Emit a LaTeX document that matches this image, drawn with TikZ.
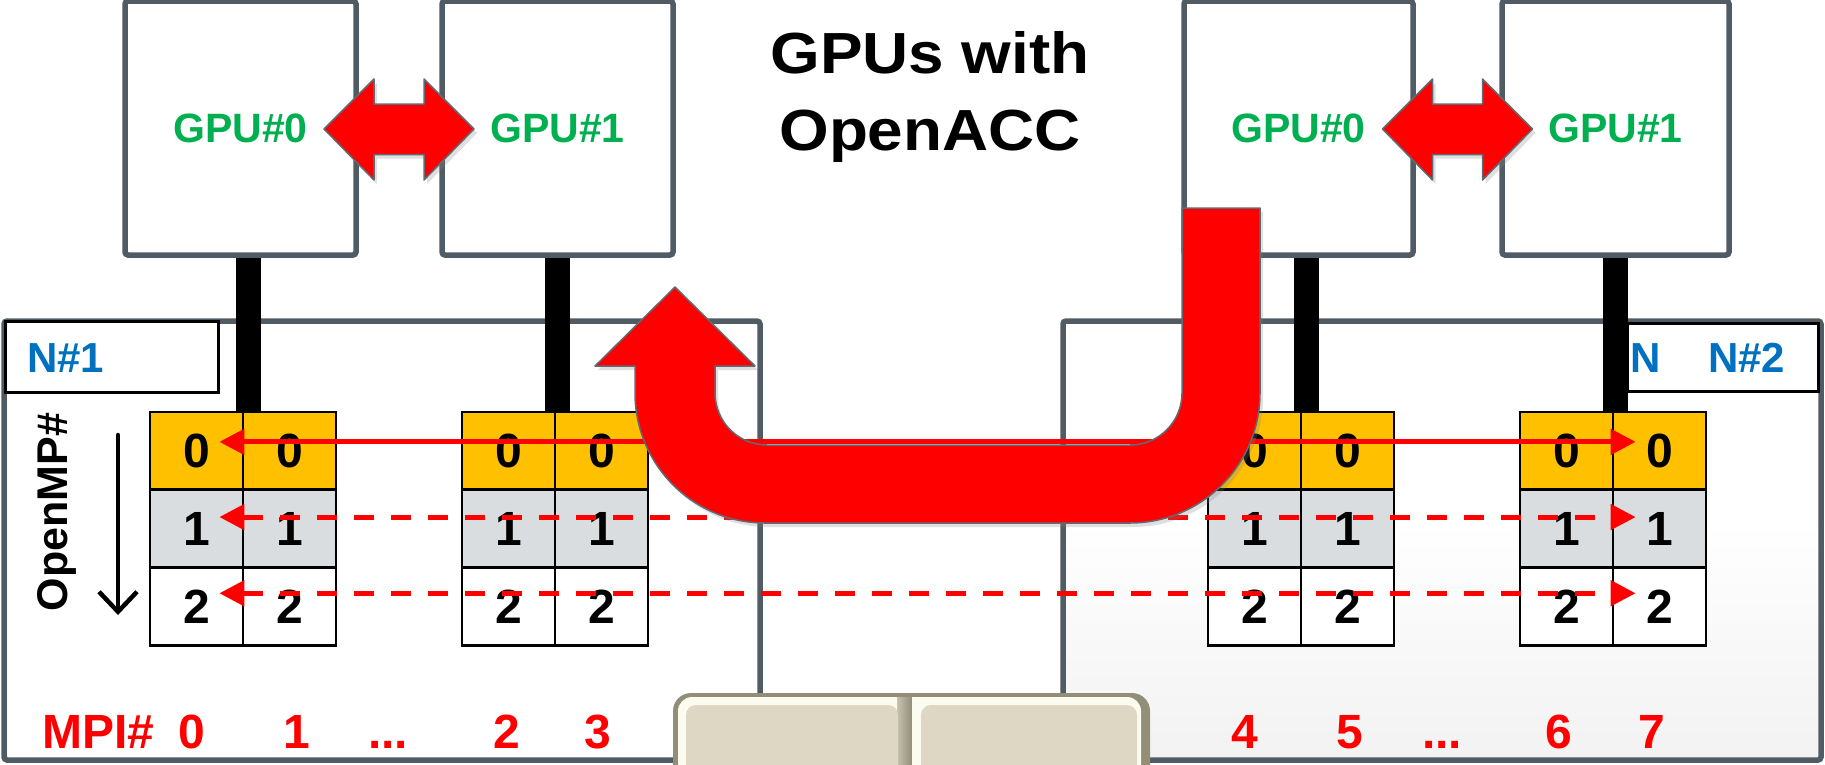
\documentclass[tikz,border=0pt]{standalone}
\usepackage{fontspec}
\usepackage{graphicx}
\setmainfont{Liberation Sans}
\usetikzlibrary{arrows.meta,shadows}
\definecolor{frame}{RGB}{80,91,100}
\definecolor{gpugreen}{RGB}{0,176,80}
\definecolor{nblue}{RGB}{0,112,192}
\definecolor{gold}{RGB}{255,192,0}
\definecolor{rowgrey}{RGB}{218,221,224}
\definecolor{beige}{RGB}{221,215,195}
\definecolor{beigedark}{RGB}{146,142,120}
\definecolor{beigelight}{RGB}{252,251,240}
\newcommand{\fsz}[1]{\fontsize{#1}{#1}\selectfont\bfseries}
\begin{document}
\begin{tikzpicture}[x=1pt,y=1pt,
  frameline/.style={draw=frame,line width=5.5pt,rounded corners=3pt},
  gpubox/.style={frameline,fill=white,minimum width=231pt,minimum height=254pt,inner sep=0pt,text=gpugreen,font=\fsz{41}},
  nodebox/.style={frameline,minimum width=756pt,minimum height=439pt,inner sep=0pt},
  nbox/.style={draw=black,line width=3pt,fill=white,inner sep=0pt},
  nlabel/.style={text=nblue,font=\fsz{42},anchor=base west,inner sep=0pt},
  cell/.style={draw=black,line width=2.8pt,minimum width=93pt,minimum height=77.7pt,inner sep=0pt,font=\fsz{48}},
  bar/.style={line width=25pt},
  rowarr/.style={draw=red,line width=5pt,>={Triangle[length=25pt,width=25pt]},<->},
  rowdash/.style={rowarr,dash pattern=on 20pt off 17pt},
  bigarrow/.style={fill=red,draw=frame!90,line width=1.5pt,line join=round,drop shadow={shadow xshift=3pt,shadow yshift=-4pt,opacity=0.25}},
  mpi/.style={text=red,font=\fsz{48},anchor=base,inner sep=0pt},
  title/.style={font=\fsz{58},anchor=base,inner sep=0pt}
]
\useasboundingbox (0,0) rectangle (1825,-764);
\clip (0,0) rectangle (1825,-764);

% faint background texture of node 2
\shade[top color=white,bottom color=black!5] (1066,-520) rectangle (1818,-757);

% node frames
\node[nodebox] (n1) at (382,-540.5) {};
\node[nodebox,minimum width=758pt] (n2) at (1442,-540.5) {};

% node label boxes
\node[nbox,minimum width=213pt,minimum height=71pt] (nb1) at (111.5,-356.5) {};
\node[nbox,minimum width=191pt,minimum height=68pt] (nb2) at (1722.5,-357) {};
\node[nlabel] (nl1) at (27,-372) {N\#1};
\node[nlabel] (nl2a) at (1630,-372) {N};
\node[nlabel] (nl2) at (1708,-372) {N\#2};

% GPUs
\node[gpubox] (gA) at (240.5,-128) {GPU\#0};
\node[gpubox] (gB) at (557.5,-128) {GPU\#1};
\node[gpubox,minimum width=229pt] (gC) at (1298.5,-128) {GPU\#0};
\node[gpubox,minimum width=227pt] (gD) at (1615.5,-128) {GPU\#1};

% GPU double arrows
\path (gA.east) -- (gB.west) coordinate[midway] (mAB);
\path (gC.east) -- (gD.west) coordinate[midway] (mCD);
\foreach \m in {mAB,mCD}{
  \draw[bigarrow] ([shift={(-75,-1)}]\m) -- ++(50,50) -- ++(0,-25) -- ++(50,0) -- ++(0,25)
     -- ++(50,-50) -- ++(-50,-51) -- ++(0,25.5) -- ++(-50,0) -- ++(0,-25.5) -- cycle;
}

% cells
\foreach \g/\gx in {a/150,b/462,c/1208,d/1520}{
  \foreach \r/\fc in {0/gold,1/rowgrey,2/white}{
    \foreach \c in {0,1}{
      \node[cell,fill=\fc] (\g\r\c) at ({\gx+46.5+93*\c},{-450.85-77.7*\r}) {\r};
    }
  }
}

% black bars
\draw[bar] ([xshift=7.5pt]gA.south) -- ([xshift=7.5pt]gA.south |- a00.north);
\draw[bar] (gB.south) -- (gB.south |- b00.north);
\draw[bar] ([xshift=7.5pt]gC.south) -- ([xshift=7.5pt]gC.south |- c00.north);
\draw[bar] (gD.south) -- (gD.south |- d00.north);

% MPI row arrows
\draw[rowarr] ([xshift=-25pt,yshift=9pt]a00.east) -- ([xshift=24pt,yshift=9pt]d01.west);
\draw[rowdash] ([xshift=-25pt,yshift=11.5pt]a10.east) -- ([xshift=24pt,yshift=11.5pt]d11.west);
\draw[rowdash] ([xshift=-25pt,yshift=13pt]a20.east) -- ([xshift=24pt,yshift=13pt]d21.west);

% big U-turn arrow
\draw[bigarrow] (1260,-208) -- (1260,-393) arc[start angle=0,end angle=-90,radius=130]
  -- (765,-523) arc[start angle=270,end angle=180,radius=130]
  -- (635,-366) -- (595,-366) -- (675,-287) -- (755,-366) -- (715,-366)
  -- (715,-393) arc[start angle=180,end angle=270,radius=52]
  -- (1130,-445) arc[start angle=270,end angle=360,radius=52]
  -- (1182,-208) -- cycle;

% OpenMP label and arrow
\node[rotate=90,font=\fsz{43},inner sep=0pt] (omp) at (57,-512) {OpenMP\#};
\coordinate (ompA) at (118,-435);
\coordinate (ompB) at (118,-615);
\draw[line width=4.5pt,line cap=round,line join=round,-{Straight Barb[length=20pt,width=38pt]}] (ompA) -- (ompB);

% title
\node[title] (t1) at (930,-73) {\scalebox{1.1}[1]{GPUs with}};
\node[title] (t2) at (930,-150) {\scalebox{1.1}[1]{OpenACC}};

% MPI numbers
\node[mpi,anchor=base west] (mpiL) at (42,-748) {MPI\#};
\node[mpi] (m0) at (192,-748) {0};
\node[mpi] (m1) at (297,-748) {1};
\node[mpi] (md1) at (388,-748) {...};
\node[mpi] (m2) at (507,-748) {2};
\node[mpi] (m3) at (598,-748) {3};
\node[mpi] (m4) at (1245,-748) {4};
\node[mpi] (m5) at (1350,-748) {5};
\node[mpi] (md2) at (1442,-748) {...};
\node[mpi] (m6) at (1559,-748) {6};
\node[mpi] (m7) at (1652,-748) {7};

% beige keys at the bottom
\fill[beigedark,rounded corners=18pt] (673,-693) rectangle (1150,-800);
\fill[beigelight,rounded corners=14pt] (678,-697) rectangle (1141,-800);
\shade[left color=beige!70!beigedark,right color=beigedark] (897,-697) rectangle (912,-800);
\fill[beigelight] (912,-697) rectangle (919,-800);
\fill[beige,rounded corners=10pt] (686,-705) rectangle (898,-800);
\fill[beige,rounded corners=10pt] (921,-705) rectangle (1137,-800);
\end{tikzpicture}
\end{document}
